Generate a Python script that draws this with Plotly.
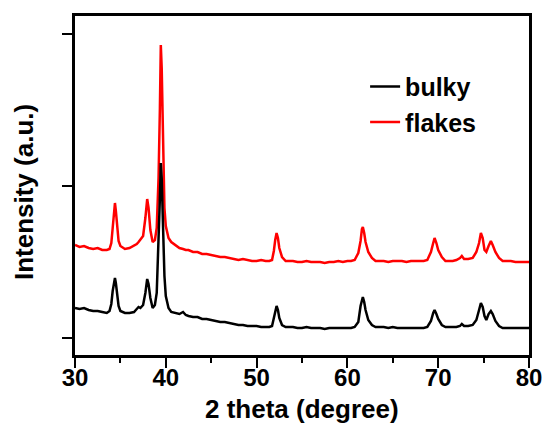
import plotly.graph_objects as go

two_theta = [30, 30.5, 31, 31.5, 32, 32.5, 33, 33.5, 33.8, 34.0, 34.15, 34.3, 34.4, 34.5, 34.65, 34.8,
             35.0, 35.5, 36, 36.5, 36.8, 37.0, 37.2, 37.5, 37.75, 37.95, 38.1, 38.3, 38.55, 38.8,
             39.0, 39.2, 39.35, 39.45, 39.55, 39.7, 39.85, 40.0, 40.3, 40.6, 41, 41.5, 41.9, 42.2,
             42.5, 43, 43.5, 44, 44.5, 45, 45.5, 46, 46.5, 47, 47.5, 48, 48.5, 49, 49.5, 50, 50.5,
             51, 51.4, 51.7, 51.9, 52.05, 52.2, 52.35, 52.5, 52.8, 53.2, 53.6, 54, 54.5, 55, 55.5,
             56, 56.5, 57, 57.5, 58, 58.5, 59, 59.5, 60, 60.4, 60.8, 61.2, 61.45, 61.6, 61.7, 61.85,
             62.0, 62.3, 62.7, 63.1, 63.5, 64, 64.5, 65, 65.5, 66, 66.5, 67, 67.5, 68, 68.4, 68.8,
             69.2, 69.45, 69.6, 69.8, 70.0, 70.4, 70.8, 71.2, 71.6, 72, 72.4, 72.6, 72.85, 73.3,
             73.8, 74.2, 74.5, 74.7, 74.9, 75.1, 75.3, 75.55, 75.8, 76.0, 76.3, 76.7, 77.1, 77.5,
             78, 78.5, 79, 79.5, 80]

flakes = [93, 91, 92, 90, 89, 90, 88, 88, 89, 95, 110, 130, 135, 127, 108, 97,
          92, 89, 90, 92, 94, 96, 98, 102, 120, 139, 130, 108, 96, 98,
          110, 160, 230, 293, 270, 185, 130, 112, 100, 96, 93, 90, 89, 88,
          88, 86, 86, 84, 84, 83, 82, 81, 81, 80, 79, 78, 79, 78, 77, 77, 78,
          77, 77, 78, 87, 98, 105, 100, 90, 81, 77, 77, 77, 76, 76, 77,
          76, 76, 76, 75, 76, 76, 77, 76, 77, 77, 78, 85, 97, 109, 111, 105,
          96, 86, 80, 77, 77, 77, 76, 77, 77, 77, 76, 77, 77, 77, 77, 78,
          86, 95, 100, 95, 88, 81, 77, 77, 77, 78, 80, 82, 79, 79,
          80, 86, 95, 105, 100, 88, 86, 92, 97, 93, 86, 80, 77, 77,
          77, 76, 76, 76, 76]

bulky = [30, 29, 30, 28, 27, 27, 26, 25, 27, 34, 47, 58, 60, 55, 42, 32,
         27, 25, 25, 26, 29, 31, 30, 33, 45, 59, 54, 40, 30, 33,
         45, 90, 140, 175, 160, 110, 62, 42, 30, 26, 25, 24, 26, 23,
         22, 21, 21, 19, 19, 18, 17, 16, 16, 15, 14, 13, 13, 12, 12, 12, 11,
         11, 11, 12, 19, 27, 32, 28, 20, 13, 11, 11, 11, 10, 10, 11,
         10, 10, 10, 9, 10, 10, 10, 10, 10, 10, 11, 16, 32, 40, 41, 36,
         28, 18, 13, 11, 11, 11, 10, 11, 10, 10, 10, 10, 10, 10, 10, 11,
         17, 25, 28, 24, 19, 13, 11, 11, 11, 11, 12, 14, 12, 12,
         13, 18, 28, 35, 31, 22, 18, 24, 27, 24, 17, 12, 10, 10,
         10, 10, 10, 10, 10]

x_ticks = [30, 40, 50, 60, 70, 80]
y_ticks = [0, 152, 304]

FONT = "Liberation Sans"

fig = go.Figure()
fig.add_trace(go.Scatter(x=two_theta, y=flakes, mode="lines", name="flakes",
                         line=dict(color="#ff0000", width=2.5), legendrank=2))
fig.add_trace(go.Scatter(x=two_theta, y=bulky, mode="lines", name="bulky",
                         line=dict(color="#000000", width=2.5), legendrank=1))

fig.update_layout(
    width=547, height=423,
    margin=dict(l=75, r=18, t=16, b=68, autoexpand=False),
    paper_bgcolor="white", plot_bgcolor="white",
    font=dict(family=FONT, color="black"),
    showlegend=True,
    legend=dict(x=0.639, y=0.859, xanchor="left", yanchor="top",
                bgcolor="rgba(0,0,0,0)", borderwidth=0,
                font=dict(family=FONT, size=25, weight="bold", color="black")),
    xaxis=dict(range=[30, 80], tickmode="array", tickvals=x_ticks, automargin=False,
               showline=True, linecolor="black", linewidth=2.5, mirror=True,
               ticks="outside", ticklen=10, tickwidth=2, tickcolor="black",
               ticklabelstandoff=-11,
               minor=dict(dtick=5, ticks="outside", ticklen=5, tickwidth=2, tickcolor="black"),
               showgrid=False, zeroline=False,
               tickfont=dict(family=FONT, size=24, weight="bold", color="black")),
    yaxis=dict(range=[-17, 322], tickmode="array", tickvals=y_ticks, automargin=False,
               showticklabels=False,
               showline=True, linecolor="black", linewidth=2.5, mirror=True,
               ticks="outside", ticklen=10, tickwidth=2, tickcolor="black",
               showgrid=False, zeroline=False),
    annotations=[
        dict(text="2 theta (degree)", xref="paper", yref="paper", x=0.5, y=-0.158,
             xanchor="center", yanchor="middle", showarrow=False,
             font=dict(family=FONT, size=26, weight="bold", color="black")),
        dict(text="Intensity (a.u.)", xref="paper", yref="paper", x=-0.112, y=0.481,
             xanchor="center", yanchor="middle", showarrow=False, textangle=-90,
             font=dict(family=FONT, size=26, weight="bold", color="black")),
    ],
)

fig.write_html("out.html")
